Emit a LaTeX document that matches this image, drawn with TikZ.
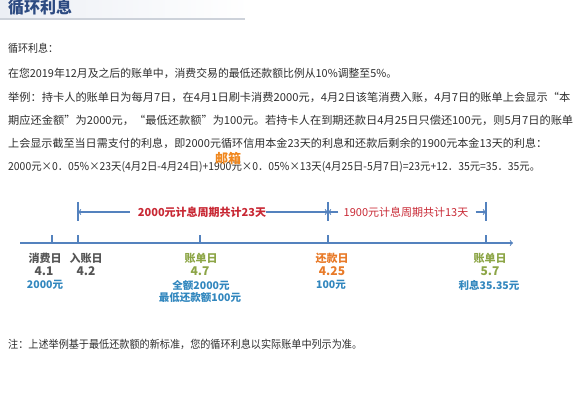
\documentclass[tikz,border=0pt]{standalone}
\usepackage{graphicx}
\usepackage{fontspec}
\setmainfont{Noto Sans CJK SC}
\usetikzlibrary{calc}

\definecolor{titleblue}{RGB}{45,75,130}
\definecolor{titlebg}{RGB}{236,239,245}
\definecolor{titleline}{RGB}{205,210,218}
\definecolor{bodygray}{RGB}{45,45,45}
\definecolor{axisblue}{RGB}{84,130,190}
\definecolor{periodred}{RGB}{200,40,52}
\definecolor{labgray}{RGB}{85,85,85}
\definecolor{billgreen}{RGB}{140,165,70}
\definecolor{payorange}{RGB}{232,122,40}
\definecolor{noteblue}{RGB}{50,135,190}
\definecolor{wmorange}{RGB}{240,135,30}

% squeeze a line of text to the width it has in the page
\newcommand{\fitline}[2]{\resizebox{#1}{\height}{#2}}

\tikzset{
    body/.style={anchor=west,inner sep=0pt,text=bodygray,font=\fontsize{11}{12}\selectfont},
    axis/.style={axisblue,line width=1.1pt},
    period/.style={inner sep=0pt,text=periodred,font=\fontsize{11}{12}\selectfont\bfseries},
    dayname/.style={inner sep=0pt,font=\fontsize{11}{12}\selectfont\bfseries},
    dayval/.style={inner sep=0pt,font=\fontsize{12}{12}\selectfont\bfseries},
    daynote/.style={inner sep=0pt,text=noteblue,font=\fontsize{10.5}{12}\selectfont\bfseries}
}

\begin{document}
\begin{tikzpicture}[x=1pt,y=-1pt]
        \useasboundingbox (0,0) rectangle (576,417);
        \begin{scope}

            % Title
            \shade[left color=titlebg,right color=white] (0,0) rectangle (250,19);
            \draw[line width=2pt,titleline] (0,19) -- (245,19);
            \node[anchor=west,inner sep=0pt,text=titleblue,font=\fontsize{16}{16}\selectfont\bfseries] (title) at (8,7) {循环利息};

            % Text
            \node[body] (l1) at (8,48) {\fitline{50pt}{循环利息：}};
            \node[body] (l2) at (8,73) {\fitline{389pt}{在您2019年12月及之后的账单中，消费交易的最低还款额比例从10\%调整至5\%。}};
            \node[body] (l3) at (8,97) {\fitline{562pt}{举例：持卡人的账单日为每月7日，在4月1日刷卡消费2000元，4月2日该笔消费入账，4月7日的账单上会显示“本}};
            \node[body] (l4) at (8,120) {\fitline{565pt}{期应还金额”为2000元，“最低还款额”为100元。若持卡人在到期还款日4月25日只偿还100元，则5月7日的账单}};
            \node[body] (l5) at (8,143) {\fitline{539pt}{上会显示截至当日需支付的利息，即2000元循环信用本金23天的利息和还款后剩余的1900元本金13天的利息：}};
            \node[body] (l6) at (8,167) {\fitline{532pt}{2000元×0．05\%×23天(4月2日-4月24日)+1900元×0．05\%×13天(4月25日-5月7日)=23元+12．35元=35．35元。}};
            \node[text=wmorange,font=\fontsize{13}{13}\selectfont\bfseries,inner sep=0pt] (wm) at (228,159) {邮箱};

            % Time axis
            \coordinate (axL) at (20,243);
            \coordinate (axR) at (513,243);
            \draw[axis,->] (axL) -- (axR);
            \foreach \x/\n in {52/d1,78/d2,200/d3,328/d4,486/d5} {
                \coordinate (\n) at (\x,243);
                \draw[axis] (\n) -- ++(0,-8);
            }

            % Interest periods
            \foreach \x/\n in {78/b1,328/b2,486/b3} {
                \coordinate (\n) at (\x,212);
                \draw[axis] (\x,202) -- (\x,221);
            }
            \node[period] (p23) at (202,212) {2000元计息周期共计23天};
            \draw[axis,->] ([xshift=-8pt]p23.west) -- (b1);
            \draw[axis,->] (p23.east) -- (b2);
            \node[period,font=\fontsize{11}{12}\selectfont] (p13) at (406,212) {1900元计息周期共计13天};
            \draw[axis,->] ([xshift=-5pt]p13.west) -- (b2);
            \draw[axis,->] ([xshift=7pt]p13.east) -- (b3);

            % Days
            \node[dayname,text=labgray] (n1) at (45,258) {消费日};
            \node[dayval,text=labgray] (v1) at (44,271) {4.1};
            \node[daynote] (m1) at (45,285) {2000元};

            \node[dayname,text=labgray] (n2) at (86,258) {入账日};
            \node[dayval,text=labgray] (v2) at (86,271) {4.2};

            \node[dayname,text=billgreen] (n3) at (201,258) {账单日};
            \node[dayval,text=billgreen] (v3) at (200,271) {4.7};
            \node[daynote] (m3) at (201,285) {全额2000元};
            \node[daynote] (m3b) at (200,298) {最低还款额100元};

            \node[dayname,text=payorange] (n4) at (332,258) {还款日};
            \node[dayval,text=payorange] (v4) at (332,271) {4.25};
            \node[daynote] (m4) at (331,285) {100元};

            \node[dayname,text=billgreen] (n5) at (490,258) {账单日};
            \node[dayval,text=billgreen] (v5) at (490,271) {5.7};
            \node[daynote] (m5) at (489,285) {利息35.35元};

            % Note
            \node[body] (note) at (8,344) {\fitline{354pt}{注：上述举例基于最低还款额的新标准，您的循环利息以实际账单中列示为准。}};

        \end{scope}
    \end{tikzpicture}
\end{document}
